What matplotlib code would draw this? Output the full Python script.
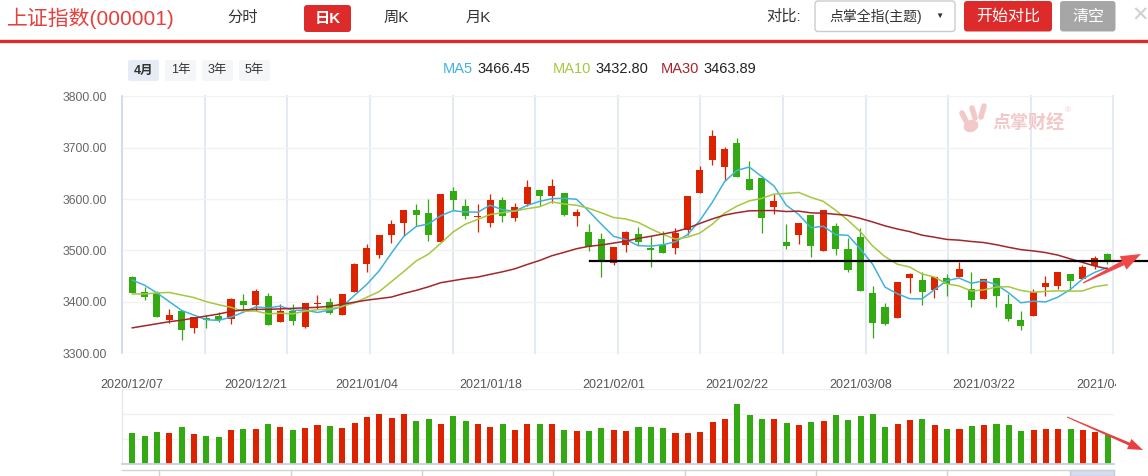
import numpy as np
import pandas as pd
import matplotlib
matplotlib.use("Agg")
import matplotlib.pyplot as plt
from matplotlib.patches import FancyBboxPatch, Rectangle, Polygon, Ellipse
from matplotlib.lines import Line2D
from matplotlib.transforms import Bbox, IdentityTransform, blended_transform_factory

W, H = 1148, 476
plt.rcParams['font.family'] = ['Liberation Sans', 'Noto Sans CJK SC', 'DejaVu Sans']

# trading days 2020/12/07 .. 2021/04/06 (SSE holidays removed)
days = pd.bdate_range('2020-12-07', '2021-04-06')
closed = pd.to_datetime(['2021-01-01', '2021-02-11', '2021-02-12', '2021-02-15',
                         '2021-02-16', '2021-02-17', '2021-04-05'])
days = days[~days.isin(closed)]
dates = days.strftime('%Y/%m/%d').tolist()

opens = [3448, 3419, 3416, 3364, 3382, 3349, 3368, 3372, 3367, 3401,
         3394, 3411, 3361, 3382, 3351, 3396, 3399, 3374, 3419, 3474,
         3491, 3530, 3554, 3578, 3573, 3517, 3616, 3586, 3565, 3554,
         3598, 3564, 3591, 3617, 3606, 3612, 3567, 3536, 3522, 3475,
         3511, 3532, 3504, 3511, 3505, 3540, 3612, 3723, 3663, 3709,
         3618, 3641, 3596, 3516, 3530, 3569, 3499, 3547, 3462, 3526,
         3417, 3389, 3369, 3447, 3442, 3423, 3434, 3448, 3425, 3405,
         3446, 3395, 3353, 3372, 3428, 3430, 3454, 3444, 3469, 3493]
highs = [3450, 3428, 3421, 3385, 3382, 3370, 3374, 3380, 3407, 3415,
         3425, 3417, 3395, 3395, 3397, 3413, 3407, 3415, 3475, 3512,
         3530, 3559, 3578, 3590, 3600, 3610, 3623, 3600, 3590, 3610,
         3604, 3592, 3637, 3617, 3639, 3612, 3580, 3551, 3534, 3506,
         3538, 3545, 3528, 3538, 3543, 3606, 3664, 3734, 3701, 3719,
         3674, 3645, 3610, 3551, 3553, 3569, 3579, 3553, 3524, 3543,
         3430, 3397, 3438, 3456, 3458, 3448, 3454, 3477, 3458, 3444,
         3446, 3415, 3382, 3425, 3450, 3458, 3454, 3471, 3489, 3495]
lows = [3416, 3403, 3370, 3359, 3326, 3339, 3349, 3361, 3356, 3383,
        3382, 3355, 3361, 3354, 3349, 3385, 3376, 3374, 3419, 3458,
        3486, 3515, 3528, 3547, 3519, 3517, 3578, 3561, 3536, 3546,
        3556, 3558, 3586, 3586, 3593, 3567, 3547, 3499, 3448, 3472,
        3497, 3511, 3468, 3495, 3493, 3530, 3612, 3667, 3636, 3643,
        3618, 3534, 3571, 3503, 3513, 3488, 3499, 3490, 3458, 3421,
        3330, 3355, 3369, 3417, 3393, 3407, 3411, 3448, 3389, 3405,
        3389, 3363, 3345, 3372, 3411, 3424, 3423, 3444, 3463, 3473]
closes = [3416, 3410, 3370, 3374, 3345, 3370, 3365, 3364, 3405, 3394,
          3421, 3355, 3382, 3363, 3397, 3398, 3378, 3415, 3473, 3504,
          3530, 3551, 3578, 3569, 3530, 3610, 3599, 3566, 3567, 3598,
          3566, 3584, 3623, 3606, 3625, 3569, 3575, 3506, 3481, 3506,
          3536, 3517, 3501, 3495, 3534, 3606, 3656, 3677, 3697, 3643,
          3639, 3564, 3585, 3509, 3553, 3509, 3579, 3503, 3502, 3421,
          3359, 3357, 3438, 3454, 3419, 3448, 3446, 3463, 3403, 3444,
          3411, 3367, 3364, 3419, 3436, 3458, 3440, 3467, 3485, 3481]
volume = [1.23, 1.11, 1.27, 1.23, 1.47, 1.19, 1.11, 1.07, 1.35, 1.39,
          1.39, 1.59, 1.47, 1.35, 1.43, 1.55, 1.51, 1.43, 1.64, 1.88,
          2.00, 1.84, 2.00, 1.72, 1.80, 1.59, 1.92, 1.72, 1.59, 1.47,
          1.59, 1.35, 1.59, 1.59, 1.59, 1.35, 1.31, 1.31, 1.43, 1.35,
          1.31, 1.47, 1.47, 1.43, 1.23, 1.23, 1.27, 1.68, 1.80, 2.41,
          1.96, 1.80, 1.80, 1.64, 1.55, 1.68, 1.72, 1.96, 1.76, 1.92,
          2.00, 1.47, 1.59, 1.76, 1.80, 1.55, 1.39, 1.39, 1.51, 1.55,
          1.59, 1.55, 1.31, 1.35, 1.39, 1.39, 1.39, 1.35, 1.27, 1.15]

# moving averages before enough history is visible
ma5_head = [3442, 3432, 3417, 3400]
ma10_head = [3415, 3415, 3417, 3418, 3413, 3408, 3400, 3394, 3389]
ma30_head = [3349, 3353, 3357, 3361, 3364, 3368, 3372, 3376, 3381, 3384,
             3385, 3385, 3386, 3387, 3388, 3389, 3391, 3395, 3399, 3403,
             3406, 3409, 3416, 3422, 3429, 3437, 3441, 3445, 3448]

tick_dates = ['2020/12/07', '2020/12/21', '2021/01/04', '2021/01/18', '2021/02/01',
              '2021/02/22', '2021/03/08', '2021/03/22', '2021/04/06']
y_ticks = [3300, 3400, 3500, 3600, 3700, 3800]
ma_names = ['MA5', 'MA10', 'MA30']
ma_values = ['3466.45', '3432.80', '3463.89']
support = 3479

UP, DOWN = '#dd2200', '#33aa11'
MA_COLORS = ['#3fb2de', '#a4c83e', '#a3262a']

o = np.array(opens, float); c = np.array(closes, float)
hi = np.array(highs, float); lo = np.array(lows, float)
n = len(c)
xs = np.arange(n)
prev = np.r_[o[0], c[:-1]]
cols = np.where(c > prev, UP, DOWN)

cs = pd.Series(c)
ma5 = cs.rolling(5).mean().values
ma5[:4] = ma5_head
ma10 = cs.rolling(10).mean().values
ma10[:9] = ma10_head
ma30 = cs.rolling(30).mean().values
ma30[:29] = ma30_head

fig = plt.figure(figsize=(W / 100, H / 100), dpi=100)
fig.patch.set_facecolor('white')
ID = IdentityTransform()


def ftext(x, y, s, **kw):
    return fig.text(x / W, 1 - y / H, s, **kw)


def box(x0, y0, x1, y1, fc, ec='none', r=3, lw=0):
    fig.add_artist(FancyBboxPatch((x0, H - y1), x1 - x0, y1 - y0,
                                  boxstyle=f'round,pad=0,rounding_size={r}',
                                  fc=fc, ec=ec, lw=lw, transform=ID))


def hline(x0, x1, y, color, lw):
    fig.add_artist(Line2D([x0, x1], [H - y, H - y], color=color, lw=lw, transform=ID))


def arrow(x0, y0, x1, y1, w0, w1, hw, hl, color):
    p0 = np.array([x0, H - y0]); p1 = np.array([x1, H - y1])
    u = (p1 - p0) / np.hypot(*(p1 - p0))
    nn = np.array([-u[1], u[0]])
    b = p1 - u * hl
    pts = [p0 + nn * w0 / 2, b + nn * w1 / 2, b + nn * hw / 2, p1,
           b - nn * hw / 2, b - nn * w1 / 2, p0 - nn * w0 / 2]
    fig.add_artist(Polygon(pts, closed=True, fc=color, ec='none', transform=ID))


# ---------- header ----------
ftext(7, 18.5, '上证指数(000001)', fontsize=15, color='#e5403b', va='center', ha='left')
ftext(243, 18, '分时', fontsize=11, color='#333333', va='center', ha='center')
box(304, 5, 351, 32, '#dd2a2a')
ftext(327.5, 18.5, '日K', fontsize=11, color='white', va='center', ha='center', fontweight='bold')
ftext(396, 18, '周K', fontsize=11, color='#333333', va='center', ha='center')
ftext(478, 18, '月K', fontsize=11, color='#333333', va='center', ha='center')
hline(0, W, 41, '#dd2a2a', 2.4)

ftext(766, 17, '对比:', fontsize=11, color='#333333', va='center', ha='left')
box(815, 1, 955, 31.5, 'white', ec='#cccccc', lw=1)
ftext(829, 16.5, '点掌全指(主题)', fontsize=10, color='#333333', va='center', ha='left')
ftext(939, 16, '▼', fontsize=6, color='#333333', va='center', ha='center')
box(964, 1, 1052, 31.5, '#dd2a2a')
ftext(1008, 16.5, '开始对比', fontsize=11.5, color='white', va='center', ha='center')
box(1060, 1, 1115.5, 31.5, '#a6a6a6')
ftext(1088, 16.5, '清空', fontsize=11.5, color='white', va='center', ha='center')
ftext(1140, 16, '✕', fontsize=15, color='#d0d0d0', va='center', ha='center')

# period buttons
for (x0, x1), lab, fc in zip([(128, 159), (165, 196), (202, 233), (239, 270)],
                             ['4月', '1年', '3年', '5年'],
                             ['#e6ebf5', '#f5f6f8', '#f5f6f8', '#f5f6f8']):
    box(x0, 60, x1, 81, fc, r=2)
    ftext((x0 + x1) / 2, 70.5, lab, fontsize=9, color='#333333', va='center', ha='center',
          fontweight='bold' if lab == '4月' else 'normal')

# MA legend: value follows its name
renderer = fig.canvas.get_renderer()
for name, val, col, xn in zip(ma_names, ma_values, MA_COLORS, [443, 553, 661]):
    t = ftext(xn, 69, name, fontsize=10.5, color=col, va='center', ha='left')
    x_end = t.get_window_extent(renderer).x1
    ftext(x_end + 4, 69, val, fontsize=10.5, color='#222222', va='center', ha='left')

# ---------- main chart ----------
L, R = 122.3, 1113.3
ax = fig.add_axes([L / W, 1 - 353 / H, (R - L) / W, (353 - 96.4) / H])
ax.set_xlim(-0.81, 79.5)
ax.set_ylim(3300, 3800)
for s in ['top', 'right', 'bottom']:
    ax.spines[s].set_visible(False)
ax.spines['left'].set_color('#c8d7eb')
ax.spines['left'].set_linewidth(1.2)
ax.set_xticks([])
ax.set_yticks(y_ticks)
ax.set_yticklabels([f'{v:.2f}' for v in y_ticks])
ax.tick_params(axis='y', length=0, pad=10.8, labelsize=8.8, labelcolor='#666666')
ax.grid(axis='y', color='#f2f2f2', lw=1)
ax.set_axisbelow(True)
for k in range(1, 13):
    ax.plot([k / 12, k / 12], [0, 1], transform=ax.transAxes, color='#e4eaf2',
            lw=1.5, zorder=0.5, clip_on=False)

ax.vlines(xs, lo, hi, colors=cols, lw=0.9, zorder=2)
ax.bar(xs, np.maximum(np.abs(c - o), 1.5), bottom=np.minimum(o, c), width=0.57,
       color=cols, zorder=2)
for ma, col in zip([ma5, ma10, ma30], MA_COLORS):
    ax.plot(xs, ma, color=col, lw=1.1, zorder=3)

ax.plot([37.1, 82.5], [support, support], color='black', lw=1.6, zorder=4, clip_on=False)

# watermark
wm = '#f3c8c8'
fig.add_artist(Ellipse((971, H - 126), 15, 12, angle=20, fc=wm, ec='none', transform=ID))
for (x0, y0, x1, y1) in [(962, 113, 966, 121), (972, 108, 975, 118), (984, 106, 981, 117)]:
    fig.add_artist(Line2D([x0, x1], [H - y0, H - y1], color=wm, lw=4,
                          solid_capstyle='round', transform=ID))
ftext(992, 123.5, '点掌财经', fontsize=13, fontweight='bold', color=wm, va='center', ha='left')
ftext(1068, 111, '®', fontsize=6, color=wm, va='center', ha='center')

# ---------- volume ----------
vax = fig.add_axes([L / W, 1 - 464 / H, (1113.8 - L) / W, (464 - 389) / H])
vax.set_xlim(-0.81, 79.5)
vax.set_ylim(0, 3)
vax.bar(xs, volume, width=0.49, color=cols, zorder=2)
for s in ['top', 'right']:
    vax.spines[s].set_visible(False)
vax.spines['bottom'].set_color('#c6d0e4')
vax.spines['bottom'].set_linewidth(1.3)
vax.spines['left'].set_color('#e0e6f0')
vax.set_xticks([])
vax.set_yticks([1, 2, 3])
vax.set_yticklabels([])
vax.tick_params(axis='y', length=0)
vax.grid(axis='y', color='#f0f0f0', lw=1)
vax.set_axisbelow(True)

trans = blended_transform_factory(vax.transData, fig.transFigure)
for d in tick_dates:
    t = vax.text(dates.index(d), 1 - 385 / H, d, transform=trans, ha='center', va='center',
                 fontsize=9, color='#555555')
    t.set_clip_box(Bbox.from_extents(0, 0, 1116, H))
    t.set_clip_on(True)

# zoom slider strip
hline(L, 1114, 470, '#d2d2d2', 1)
for k in range(7):
    xk = 159.3 + 131.3 * k
    fig.add_artist(Line2D([xk, xk], [H - 470, 0], color='#d2d2d2', lw=1, transform=ID))
fig.add_artist(Rectangle((1070, 0), 44, H - 470, fc='#d5ddef', ec='#c3cbe0', lw=1, transform=ID))

# arrows
arrow(1083, 283, 1141, 254, 1.2, 5, 15, 20, '#ee4848')
arrow(1067, 417, 1143, 450, 1.0, 3, 11, 15, '#e84040')

fig.savefig('out.png', dpi=100)
